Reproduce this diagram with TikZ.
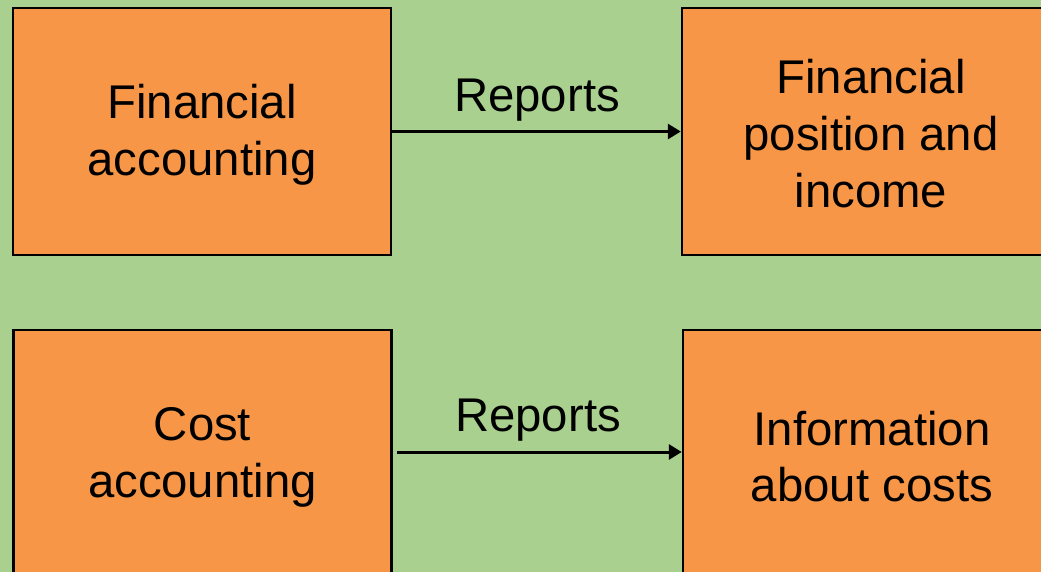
\documentclass[tikz,border=0pt]{standalone}
\usepackage{fontspec}
\setmainfont{Liberation Sans}
\usetikzlibrary{arrows.meta}
\definecolor{bggreen}{HTML}{A9D08E}
\definecolor{boxorange}{HTML}{F79646}
\tikzset{
  box/.style={draw=black, line width=2.5bp, fill=boxorange, minimum width=378bp, minimum height=247bp, inner sep=0pt},
  txt/.style={inner sep=0pt, align=center, font=\fontsize{47.5}{57}\selectfont},
  conn/.style={line width=3bp, -{Triangle[length=13bp,width=15bp]}},
  lbl/.style={font=\fontsize{47.5}{57}\selectfont, inner sep=0pt}
}
\begin{document}
\begin{tikzpicture}[x=1bp,y=-1bp]
\useasboundingbox (0,0) rectangle (1041,572);
\clip (0,0) rectangle (1041,572);
\fill[bggreen] (0,0) rectangle (1041,572);
\node[box] (fa) at (202,131.5) {};
\node[box] (fp) at (871,131.5) {};
\node[box] (ca) at (202.5,453.5) {};
\node[box] (ic) at (872,453.5) {};
\node[txt] (tfa) at ([yshift=-3bp]fa.center) {Financial\\accounting};
\node[txt] (tfp) at ([yshift=-2bp]fp.center) {Financial\\position and\\income};
\node[txt] (tca) at ([yshift=-4bp]ca.center) {Cost\\accounting};
\node[txt] (tic) at ([yshift=-3bp]ic.center) {Information\\about costs};
\draw[conn] (fa.east) -- (fp.west);
\draw[conn, shorten <=4bp] (ca.east |- 0,452) -- (ic.west |- 0,452);
\node[lbl] (r1) at (537,100) {Reports};
\node[lbl] (r2) at (538,420) {Reports};
\end{tikzpicture}
\end{document}
